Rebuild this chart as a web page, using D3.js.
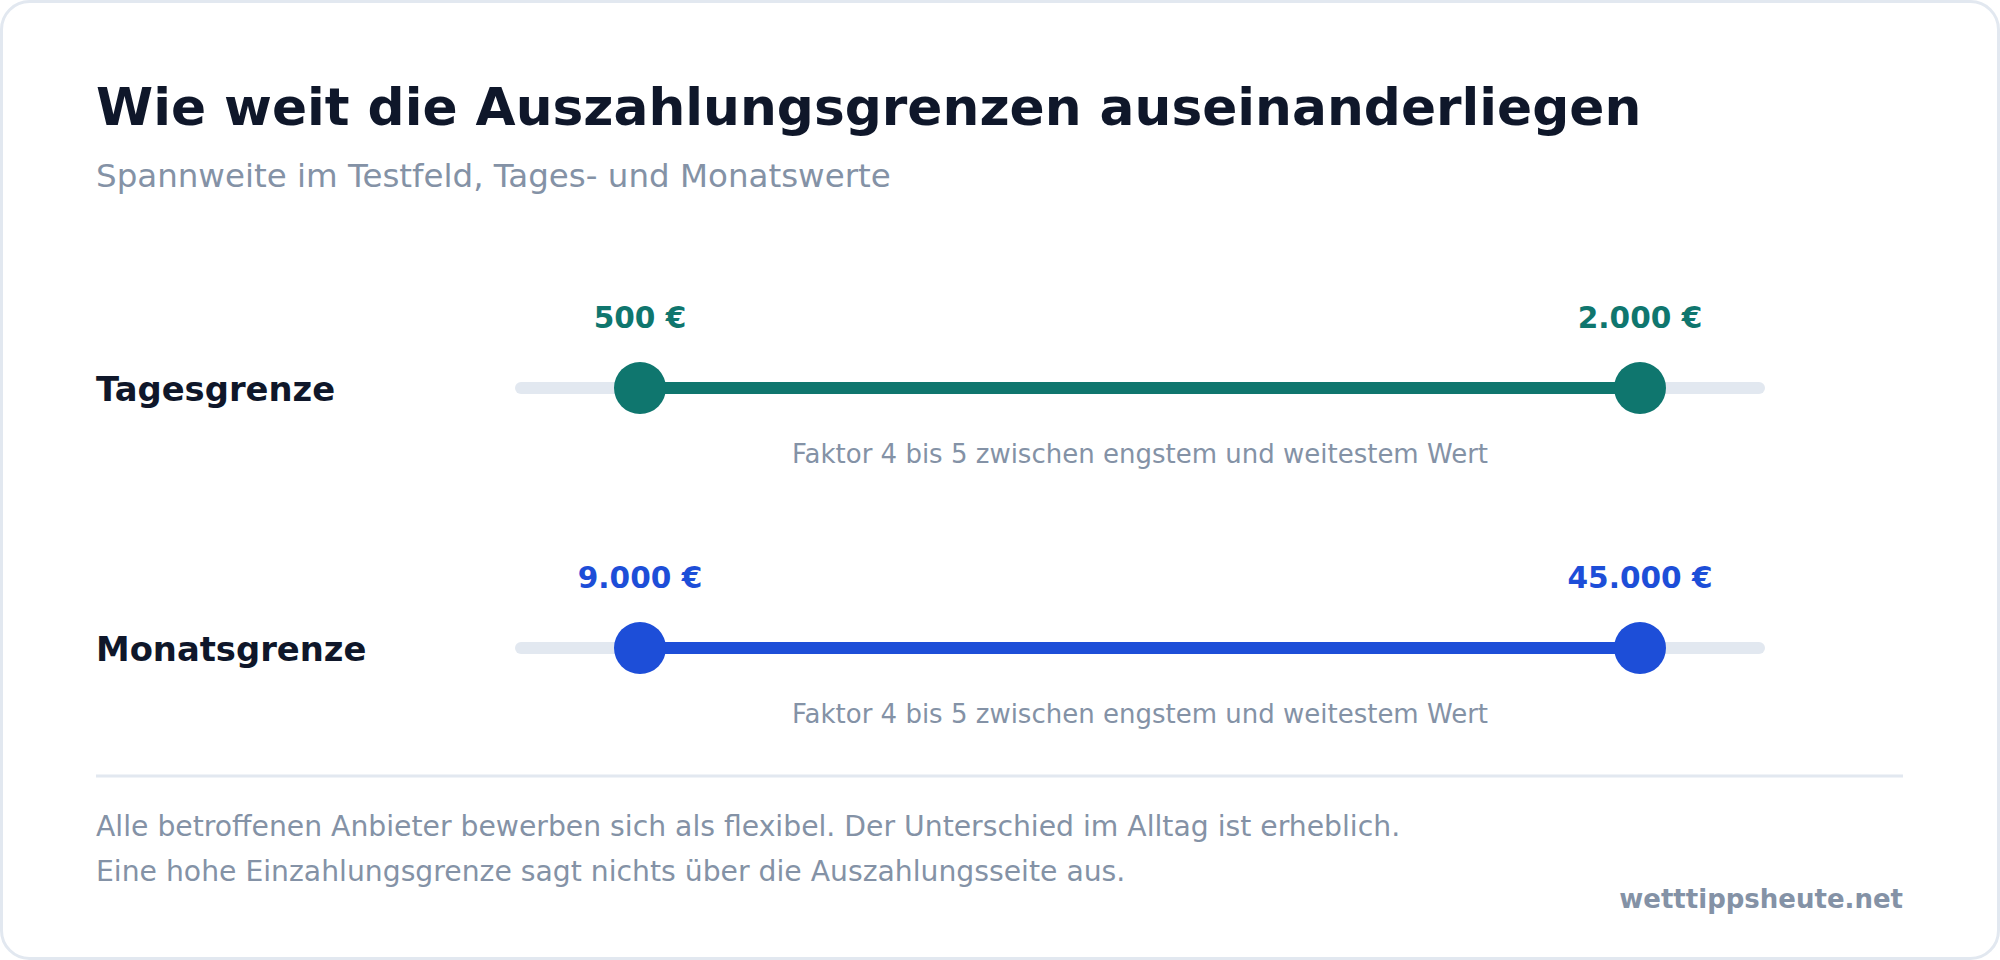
<!DOCTYPE html>
<html>
<head>
<meta charset="utf-8">
<script src="https://cdn.jsdelivr.net/npm/d3@7"></script>
<style>
  html, body { margin: 0; padding: 0; background: #ffffff; }
  svg { display: block; }
  text { font-family: "DejaVu Sans", sans-serif; }
</style>
</head>
<body>
<div id="chart"></div>
<script>
// ---- Data ----
const title = "Wie weit die Auszahlungsgrenzen auseinanderliegen";
const subtitle = "Spannweite im Testfeld, Tages- und Monatswerte";
const categories = ["Tagesgrenze", "Monatsgrenze"];
const minValues = [500, 9000];
const maxValues = [2000, 45000];
const notes = [
  "Faktor 4 bis 5 zwischen engstem und weitestem Wert",
  "Faktor 4 bis 5 zwischen engstem und weitestem Wert"
];
const rowColors = ["#0f766e", "#1d4ed8"];
const footerLines = [
  "Alle betroffenen Anbieter bewerben sich als flexibel. Der Unterschied im Alltag ist erheblich.",
  "Eine hohe Einzahlungsgrenze sagt nichts über die Auszahlungsseite aus."
];
const source = "wetttippsheute.net";

// ---- Layout ----
const W = 2000, H = 960;
const padL = 96, padR = 97;
const trackExtra = 125;
const grey = "#8492a6";

const deLocale = d3.formatLocale({ decimal: ",", thousands: ".", grouping: [3], currency: ["", " €"] });
const fmt = v => deLocale.format(",")(v) + " €";

const svg = d3.select("#chart").append("svg")
  .attr("width", W).attr("height", H);

// card
svg.append("rect")
  .attr("x", 1.5).attr("y", 1.5)
  .attr("width", W - 3).attr("height", H - 3)
  .attr("rx", 28).attr("ry", 28)
  .attr("fill", "#ffffff")
  .attr("stroke", "#e2e8f0").attr("stroke-width", 3);

// title & subtitle
svg.append("text")
  .attr("x", padL).attr("y", 125)
  .attr("font-size", 51.8).attr("font-weight", "bold")
  .attr("fill", "#0f172a")
  .text(title);
svg.append("text")
  .attr("x", padL).attr("y", 187)
  .attr("font-size", 32.5)
  .attr("fill", grey)
  .text(subtitle);

// rows
const y = d3.scalePoint().domain(categories).range([388, 648]);

const rows = categories.map((c, i) => ({
  cat: c, min: minValues[i], max: maxValues[i], note: notes[i], color: rowColors[i]
}));

rows.forEach(r => {
  const x = d3.scaleLinear().domain([r.min, r.max]).range([640, 1640]);
  const cy = y(r.cat);
  const g = svg.append("g");

  g.append("text")
    .attr("x", padL).attr("y", cy + 12.5)
    .attr("font-size", 33.8).attr("font-weight", "bold")
    .attr("fill", "#0f172a")
    .text(r.cat);

  // background track
  g.append("line")
    .attr("x1", x(r.min) - trackExtra + 6).attr("x2", x(r.max) + trackExtra - 6)
    .attr("y1", cy).attr("y2", cy)
    .attr("stroke", "#e2e8f0").attr("stroke-width", 12)
    .attr("stroke-linecap", "round");

  // range line
  g.append("line")
    .attr("x1", x(r.min)).attr("x2", x(r.max))
    .attr("y1", cy).attr("y2", cy)
    .attr("stroke", r.color).attr("stroke-width", 12);

  [r.min, r.max].forEach(v => {
    g.append("circle")
      .attr("cx", x(v)).attr("cy", cy).attr("r", 26)
      .attr("fill", r.color);
    g.append("text")
      .attr("x", x(v)).attr("y", cy - 60)
      .attr("text-anchor", "middle")
      .attr("font-size", 29.6).attr("font-weight", "bold")
      .attr("fill", r.color)
      .text(fmt(v));
  });

  g.append("text")
    .attr("x", (x.range()[0] + x.range()[1]) / 2).attr("y", cy + 75)
    .attr("text-anchor", "middle")
    .attr("font-size", 26)
    .attr("fill", grey)
    .text(r.note);
});

// footer
svg.append("line")
  .attr("x1", padL).attr("x2", W - padR)
  .attr("y1", 776).attr("y2", 776)
  .attr("stroke", "#e2e8f0").attr("stroke-width", 3);

footerLines.forEach((t, i) => {
  svg.append("text")
    .attr("x", padL).attr("y", 836 + i * 45)
    .attr("font-size", 28.25)
    .attr("fill", grey)
    .text(t);
});

svg.append("text")
  .attr("x", W - padR).attr("y", 908)
  .attr("text-anchor", "end")
  .attr("font-size", 26).attr("font-weight", "bold")
  .attr("fill", grey)
  .text(source);
</script>
</body>
</html>
